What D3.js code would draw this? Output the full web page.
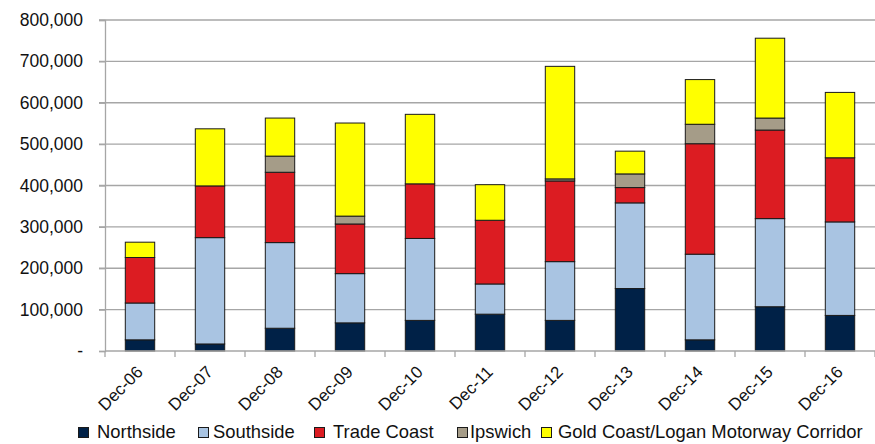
<!DOCTYPE html>
<html>
<head>
<meta charset="utf-8">
<script src="https://cdn.jsdelivr.net/npm/d3@7"></script>
<style>
  html, body { margin: 0; padding: 0; background: #fff; }
  svg { display: block; font-family: "Liberation Sans", Arial, sans-serif; }
</style>
</head>
<body>
<svg id="chart" width="875" height="444"></svg>
<script>
const categories = ["Dec-06","Dec-07","Dec-08","Dec-09","Dec-10","Dec-11","Dec-12","Dec-13","Dec-14","Dec-15","Dec-16"];
const seriesNames = ["Northside","Southside","Trade Coast","Ipswich","Gold Coast/Logan Motorway Corridor"];
const northside  = [27000, 17000, 55000, 68000, 74000, 89000, 74000, 151000, 27000, 107000, 86000];
const southside  = [89000, 257000, 207000, 119000, 198000, 73000, 142000, 207000, 207000, 213000, 226000];
const tradeCoast = [110000, 125000, 170000, 120000, 132000, 154000, 195000, 37000, 267000, 214000, 155000];
const ipswich    = [0, 0, 39000, 19000, 0, 0, 5000, 33000, 47000, 29000, 0];
const goldCoast  = [37000, 138000, 92000, 225000, 168000, 86000, 272000, 55000, 108000, 193000, 158000];
const yTicks = [0, 100000, 200000, 300000, 400000, 500000, 600000, 700000, 800000];
const colors = ["#002147", "#A9C4E2", "#DC1C22", "#A59C88", "#FFFF00"];

const seriesValues = [northside, southside, tradeCoast, ipswich, goldCoast];
const rows = categories.map((c, i) => {
  const r = { cat: c };
  seriesNames.forEach((s, j) => r[s] = seriesValues[j][i]);
  return r;
});

const svg = d3.select("#chart");
const mLeft = 105, mRight = 875, mTop = 20, mBottom = 351;

const x = d3.scaleBand().domain(categories).range([mLeft, mRight]).paddingInner(0.58).paddingOuter(0.29);
const y = d3.scaleLinear().domain([0, 800000]).range([mBottom, mTop]);
const step = x.step();

// gridlines
svg.append("g").selectAll("line").data(yTicks.filter(d => d > 0)).join("line")
  .attr("x1", mLeft - 6).attr("x2", mRight)
  .attr("y1", d => y(d)).attr("y2", d => y(d))
  .attr("stroke", "#A6A6A6").attr("stroke-width", 1.3);

// y axis
const yAxis = d3.axisLeft(y).tickValues(yTicks).tickSize(6)
  .tickFormat(d => d === 0 ? "-" : d3.format(",")(d));
const gy = svg.append("g").attr("transform", `translate(${mLeft},0)`).call(yAxis);
gy.select(".domain").attr("stroke", "#A6A6A6").attr("stroke-width", 1.3);
gy.selectAll(".tick line").attr("stroke", "#A6A6A6").attr("stroke-width", 1.3);
gy.selectAll(".tick text").attr("x", -22).attr("font-size", "17.5px").attr("fill", "#111")
  .attr("font-family", "'Liberation Sans', Arial, sans-serif");

// stacked bars
const stack = d3.stack().keys(seriesNames);
const stacked = stack(rows);
svg.append("g").selectAll("g").data(stacked).join("g")
  .attr("fill", (d, i) => colors[i])
  .selectAll("rect").data(d => d.filter(p => p[1] - p[0] > 0)).join("rect")
  .attr("x", d => x(d.data.cat))
  .attr("width", x.bandwidth())
  .attr("y", d => y(d[1]))
  .attr("height", d => y(d[0]) - y(d[1]))
  .attr("stroke", "#1a1a1a").attr("stroke-width", 1);

// x axis line and ticks
const gx = svg.append("g");
gx.append("line").attr("x1", mLeft).attr("x2", mRight).attr("y1", mBottom).attr("y2", mBottom)
  .attr("stroke", "#A6A6A6").attr("stroke-width", 1.3);
const boundaries = categories.map(c => x(c) - (step - x.bandwidth()) / 2).concat([mRight]);
gx.selectAll("line.tk").data(boundaries).join("line").attr("class", "tk")
  .attr("x1", d => d).attr("x2", d => d).attr("y1", mBottom).attr("y2", mBottom + 6)
  .attr("stroke", "#A6A6A6").attr("stroke-width", 1.3);
gx.selectAll("text").data(categories).join("text")
  .attr("transform", d => `translate(${x(d) + x.bandwidth() / 2 + 4},${mBottom + 22}) rotate(-45)`)
  .attr("text-anchor", "end")
  .attr("font-size", "17px").attr("fill", "#111")
  .text(d => d);

// legend
const legendX = [78, 198, 314, 457, 541];
const textX = [97, 213, 333, 470, 558];
const lg = svg.append("g");
seriesNames.forEach((s, i) => {
  lg.append("rect").attr("x", legendX[i] + 0.5).attr("y", 427.5).attr("width", 10).attr("height", 10)
    .attr("fill", colors[i]).attr("stroke", "#1a1a1a").attr("stroke-width", 1);
  lg.append("text").attr("x", textX[i]).attr("y", 438).attr("font-size", "18.4px").attr("fill", "#111").text(s);
});
</script>
</body>
</html>
